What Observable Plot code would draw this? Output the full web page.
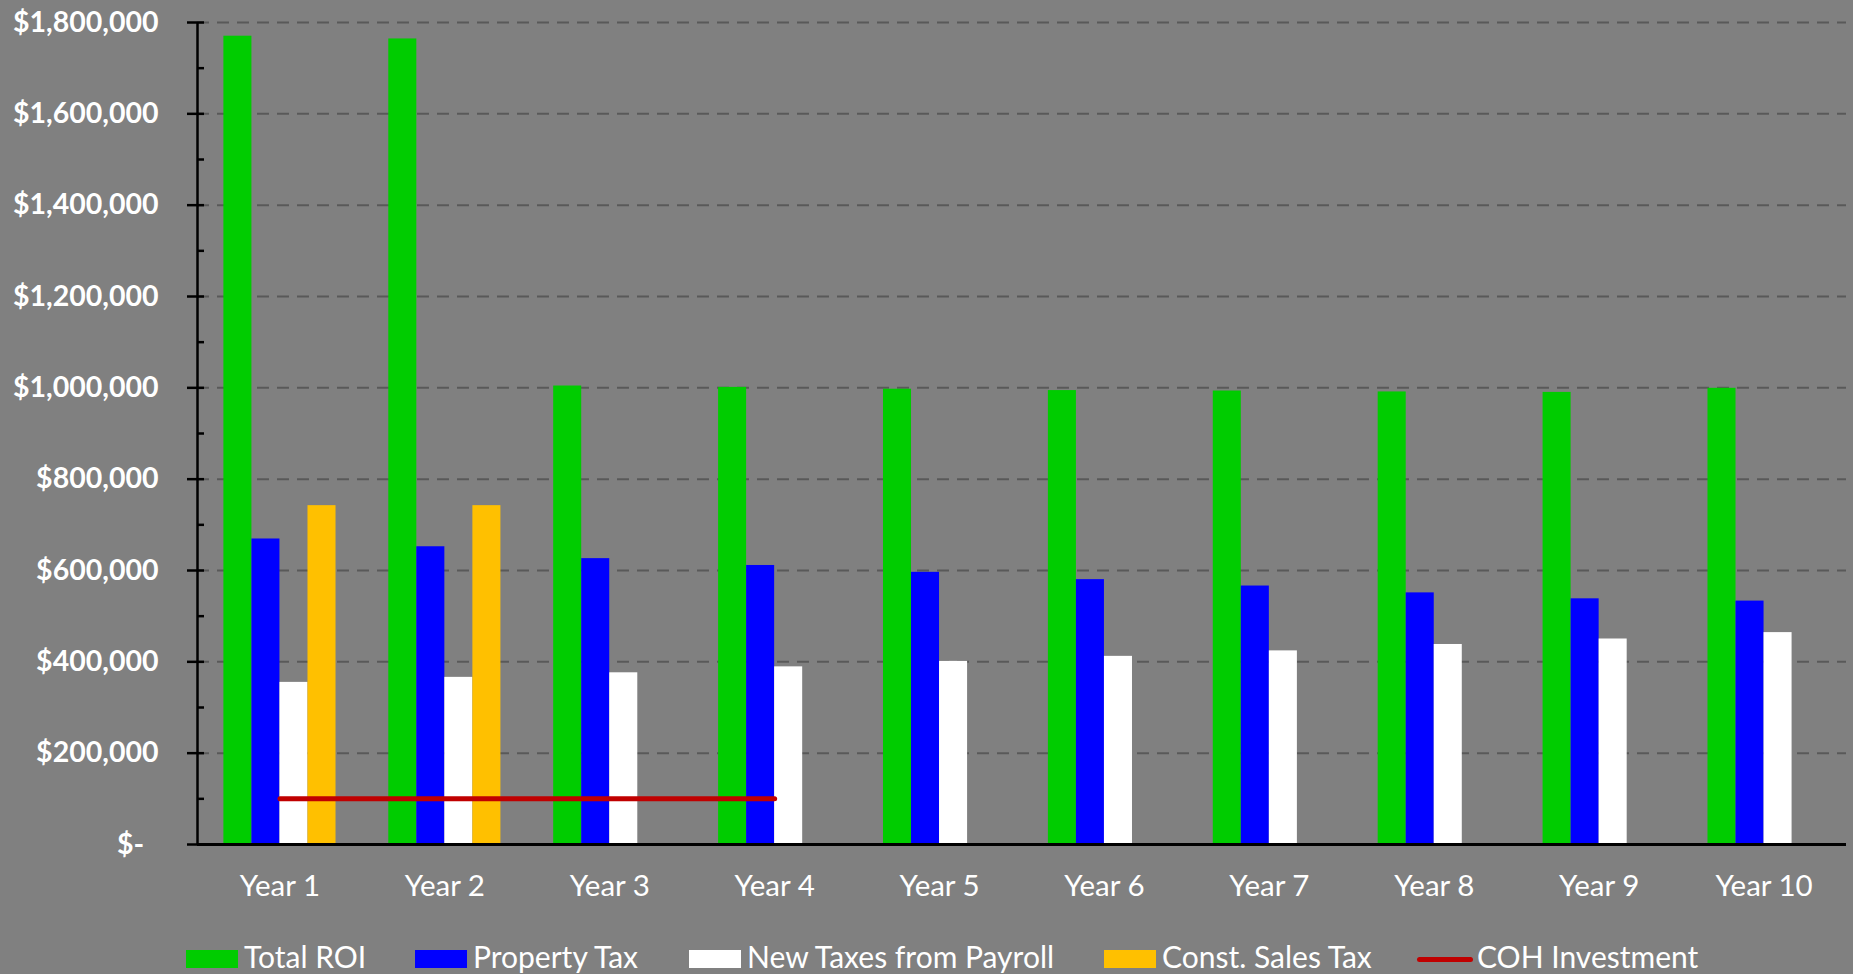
<!DOCTYPE html>
<html><head><meta charset="utf-8">
<script src="https://cdn.jsdelivr.net/npm/d3@7"></script>
<script src="https://cdn.jsdelivr.net/npm/@observablehq/plot@0.6"></script>
<style>
html,body{margin:0;padding:0;background:#808080;}
#wrap{position:relative;width:1853px;height:974px;overflow:hidden;font-family:Lato,sans-serif;}
#legend{position:absolute;left:0;top:941px;height:30px;width:1853px;}
.item{position:absolute;top:0;height:30px;line-height:30px;display:flex;align-items:center;color:#fff;font-size:30px;white-space:nowrap;}
.sw{width:52px;height:18px;margin-right:6px;position:relative;top:3px;}
.ln{width:56px;height:5px;border-radius:3px;margin-right:4px;position:relative;top:3px;}
</style></head><body><div id="wrap"><div id="legend"></div></div>
<script>
// ---- data ----
const years = [1, 2, 3, 4, 5, 6, 7, 8, 9, 10];
const yearLabels = ["Year 1", "Year 2", "Year 3", "Year 4", "Year 5", "Year 6", "Year 7", "Year 8", "Year 9", "Year 10"];
const totalROI = [1770000, 1764000, 1004000, 1001000, 997000, 994000, 993000, 991000, 990000, 999000];
const propertyTax = [669000, 652000, 626000, 611000, 596000, 580000, 566000, 551000, 538000, 533000];
const payrollTaxes = [355000, 366000, 376000, 389000, 401000, 412000, 424000, 438000, 450000, 464000];
const constSalesTax = [742000, 742000, null, null, null, null, null, null, null, null];
const cohInvestment = [100000, 100000, 100000, 100000, null, null, null, null, null, null];
const seriesNames = ["Total ROI", "Property Tax", "New Taxes from Payroll", "Const. Sales Tax"];
const lineName = "COH Investment";
const yTicks = [0, 200000, 400000, 600000, 800000, 1000000, 1200000, 1400000, 1600000, 1800000];
const yTickLabels = ["$-\u2002", "$200,000", "$400,000", "$600,000", "$800,000", "$1,000,000", "$1,200,000", "$1,400,000", "$1,600,000", "$1,800,000"];
const yMinorTicks = [100000, 300000, 500000, 700000, 900000, 1100000, 1300000, 1500000, 1700000];

// ---- styles ----
const seriesColors = ["#00CC00", "#0000FF", "#FFFFFF", "#FFC000"];
const lineColor = "#C00000";
const groupWidth = 0.68, barWidth = 0.17;

const seriesValues = [totalROI, propertyTax, payrollTaxes, constSalesTax];
const bars = [];
seriesValues.forEach((vals, k) => {
  vals.forEach((v, i) => {
    if (v != null) bars.push({year: years[i], k, series: seriesNames[k], value: v});
  });
});
const cohRows = years.map((y, i) => ({year: y, value: cohInvestment[i]})).filter(d => d.value != null);

const chart = Plot.plot({
  width: 1853, height: 925,
  marginTop: 22, marginBottom: 81, marginLeft: 197, marginRight: 7,
  style: {background: "#808080", color: "white", fontFamily: "Lato, sans-serif", fontSize: "28px", overflow: "visible"},
  x: {domain: [years[0] - 0.5, years[years.length - 1] + 0.5], axis: null},
  y: {domain: [yTicks[0], yTicks[yTicks.length - 1]], axis: null},
  color: {domain: seriesNames, range: seriesColors},
  marks: [
    Plot.gridY(yTicks.slice(1), {stroke: "#595959", strokeOpacity: 1, strokeWidth: 2, strokeDasharray: "12,8"}),
    Plot.rectY(bars, {
      x1: d => d.year - groupWidth / 2 + d.k * barWidth,
      x2: d => d.year - groupWidth / 2 + (d.k + 1) * barWidth,
      y1: 0, y2: "value", fill: "series"
    }),
    Plot.ruleY([yTicks[0]], {stroke: "black", strokeWidth: 3}),
    Plot.ruleX([years[0] - 0.5], {stroke: "black", strokeWidth: 2.5}),
    Plot.axisY({ticks: yTicks, tickSize: 17, dx: 7, tickPadding: 29, stroke: "black", strokeWidth: 2.5,
      fill: "white", fontWeight: "bold", fontSize: 28.5,
      tickFormat: d => yTickLabels[yTicks.indexOf(d)], label: null}),
    Plot.axisY({ticks: yMinorTicks, tickSize: 7, dx: 7, stroke: "black", strokeWidth: 2.5, fill: "none", label: null}),
    Plot.axisX({ticks: years, tickSize: 0, tickPadding: 31, fill: "white", fontSize: 29.5,
      tickFormat: d => yearLabels[years.indexOf(d)], label: null}),
    Plot.line(cohRows, {x: "year", y: "value", stroke: lineColor, strokeWidth: 5, strokeLinecap: "round"})
  ]
});
document.getElementById("wrap").insertBefore(chart, document.getElementById("legend"));

// ---- legend ----
const legend = document.getElementById("legend");
const lefts = [186, 415, 689, 1104, 1417];
const items = seriesNames.map((n, i) => ({name: n, color: seriesColors[i], type: "box"}))
  .concat([{name: lineName, color: lineColor, type: "line"}]);
items.forEach((it, i) => {
  const d = document.createElement("div");
  d.className = "item";
  d.style.left = lefts[i] + "px";
  const s = document.createElement("span");
  s.className = it.type === "box" ? "sw" : "ln";
  s.style.background = it.color;
  const t = document.createElement("span");
  t.textContent = it.name;
  d.appendChild(s); d.appendChild(t);
  legend.appendChild(d);
});
</script></body></html>
